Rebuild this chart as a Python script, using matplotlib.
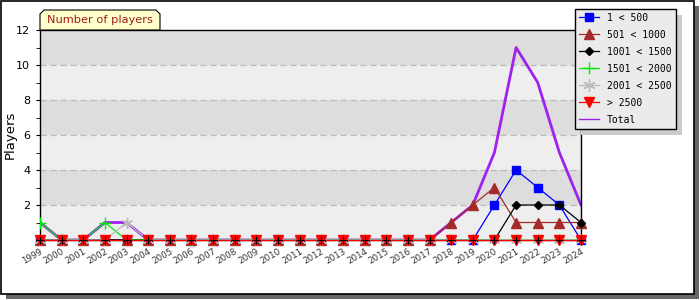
import matplotlib
matplotlib.use("Agg")
import matplotlib.pyplot as plt
from matplotlib.patches import Rectangle, Polygon

years = list(range(1999, 2025))

s_1_500 = [0]*21 + [2, 4, 3, 2, 0]
s_501_1000 = [0]*19 + [1, 2, 3, 1, 1, 1, 1]
s_1001_1500 = [0]*22 + [2, 2, 2, 1]
s_1501_2000 = [1, 0, 0, 1] + [0]*22
s_2001_2500 = [0, 0, 0, 0, 1] + [0]*21
s_2500 = [0]*26
total = [1, 0, 0, 1, 1] + [0]*14 + [1, 2, 5, 11, 9, 5, 2]

labels = ["1 < 500", "501 < 1000", "1001 < 1500", "1501 < 2000",
          "2001 < 2500", "> 2500", "Total"]

W, H = 700, 300
fig = plt.figure(figsize=(7, 3), dpi=100)
fig.patch.set_facecolor("white")

def px(x0, y0, w, h):
    # pixel box (top-left origin) -> figure coords
    return (x0 / W, 1 - (y0 + h) / H), w / W, h / H

# frame with shadow
xy, w, h = px(6, 6, 693, 293)
fig.patches.append(Rectangle(xy, w, h, transform=fig.transFigure,
                             facecolor="#666666", edgecolor="none", zorder=0))
xy, w, h = px(1, 1, 693, 293)
fig.patches.append(Rectangle(xy, w, h, transform=fig.transFigure,
                             facecolor="white", edgecolor="black", lw=1.2, zorder=1))

ax = fig.add_axes([40/W, 60/H, 541/W, 210/H])
ax.set_facecolor("none")
ax.set_zorder(2)

for lo in range(0, 12, 2):
    ax.axhspan(lo, lo + 2, color="#EEEEEE" if (lo // 2) % 2 == 0 else "#DDDDDD", zorder=0, lw=0)
for yv in range(2, 12, 2):
    ax.axhline(yv, color="#BBBBBB", lw=0.9, ls=(0, (5, 3)), zorder=0.5)

ax.plot(years, total, color="#A020F0", lw=2, zorder=2)
l1, = ax.plot(years, s_1_500, color="#0000FF", lw=0.9, marker="s", ms=5.5, zorder=3, clip_on=False)
l2, = ax.plot(years, s_501_1000, color="#A52A2A", lw=0.9, marker="^", ms=6.5, zorder=3, clip_on=False)
l3, = ax.plot(years, s_1001_1500, color="black", lw=0.9, marker="D", ms=3.8, zorder=3, clip_on=False)
l4, = ax.plot(years, s_1501_2000, color="#00EE00", lw=0.9, marker="+", ms=8, zorder=3)
l5, = ax.plot(years, s_2001_2500, color="#BBBBBB", lw=0.9, marker=(6, 2, 0), ms=8, zorder=3, clip_on=False)
l6, = ax.plot(years, s_2500, color="#FF0000", lw=0.9, marker="v", ms=6.5, zorder=3, clip_on=False)
ax.plot(years, [0]*26, color="black", lw=0, marker="+", ms=6, mew=0.8, zorder=4, clip_on=False)
l7, = ax.plot([], [], color="#A020F0", lw=1)

ax.set_xlim(1999, 2024)
ax.set_ylim(0, 12)
ax.set_xticks(years)
ax.set_xticklabels([str(y) for y in years], rotation=30, ha="right",
                   fontsize=6.3, color="#333333", rotation_mode="anchor")
ax.tick_params(axis="x", length=0, pad=5)
ax.set_yticks(range(2, 13, 2))
ax.set_yticks(range(1, 12, 2), minor=True)
ax.tick_params(axis="y", which="both", length=3, labelsize=8, pad=4)
for s in ax.spines.values():
    s.set_color("black")
    s.set_linewidth(1)

fig.text(10/W, 1 - 135/H, "Players", rotation=90, va="center", ha="center", fontsize=9.5)

# title tab
pts = [(40, 30), (40, 14), (44, 10), (156, 10), (160, 14), (160, 30)]
fig.patches.append(Polygon([(x / W, 1 - y / H) for x, y in pts], closed=True,
                           transform=fig.transFigure, facecolor="#FFFFCC",
                           edgecolor="black", lw=0.8, zorder=3))
fig.text(100/W, 1 - 20/H, "Number of players", ha="center", va="center",
         fontsize=8.2, color="#A01C1C", zorder=4)

leg = fig.legend([l1, l2, l3, l4, l5, l6, l7], labels,
                 loc="upper left", bbox_to_anchor=(575/W, 1 - 9/H),
                 fancybox=False, frameon=True, facecolor="#EBEBEB",
                 edgecolor="black", framealpha=1, handlelength=2.1,
                 handletextpad=0.8, borderpad=0.4, labelspacing=0.72,
                 borderaxespad=0, markerscale=1.1,
                 prop={"family": "DejaVu Sans Mono", "size": 7})
leg.get_frame().set_linewidth(1)
leg.set_zorder(5)

# legend shadow, sized from the drawn legend
fig.canvas.draw()
bb = leg.get_window_extent().transformed(fig.transFigure.inverted())
fig.patches.append(Rectangle((bb.x0 + 6/W, bb.y0 - 6/H), bb.width, bb.height,
                             transform=fig.transFigure, facecolor="#CCCCCC",
                             edgecolor="none", zorder=3))

fig.savefig("out.png", dpi=100)
